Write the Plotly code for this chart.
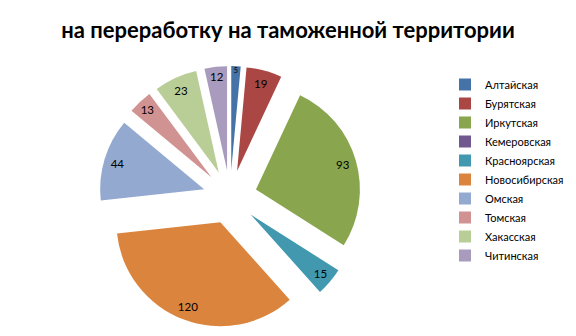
import plotly.graph_objects as go

regions = ["Алтайская", "Бурятская", "Иркутская", "Кемеровская", "Красноярская",
           "Новосибирская", "Омская", "Томская", "Хакасская", "Читинская"]
values = [5, 19, 93, 0, 15, 120, 44, 13, 23, 12]
colors = ["#4572A7", "#AA4643", "#89A54E", "#71588F", "#4198AF",
          "#DB843D", "#93A9CF", "#D19392", "#B9CD96", "#A99BBD"]
title = "на переработку на таможенной территории"

W, H = 576, 336
pull = 0.26
domain = dict(x=[99 / W, 361 / W], y=[(H - 328) / H, (H - 66) / H])
labels_text = [str(v) if v > 0 else "" for v in values]

fig = go.Figure()
# coloured slices
fig.add_trace(go.Pie(
    labels=regions, values=values, sort=False, direction="clockwise", rotation=0,
    pull=[pull] * len(values),
    marker=dict(colors=colors, line=dict(width=0)),
    textinfo="none",
    domain=domain, showlegend=True, hoverinfo="label+value",
))
# transparent ring carrying the value labels near the outer edge
fig.add_trace(go.Pie(
    labels=regions, values=values, sort=False, direction="clockwise", rotation=0,
    pull=[pull] * len(values), hole=0.74,
    marker=dict(colors=["rgba(0,0,0,0)"] * len(values), line=dict(width=0)),
    text=labels_text, textinfo="text", textposition="inside",
    insidetextorientation="horizontal",
    textfont=dict(family="Lato", size=11.5, color="black"),
    domain=domain, showlegend=False, hoverinfo="skip",
))

fig.update_layout(
    width=W, height=H,
    margin=dict(l=0, r=0, t=0, b=0, pad=0),
    paper_bgcolor="white",
    title=dict(text="<b>" + title + "</b>", x=0.5, xanchor="center",
               y=1 - 30 / H, yanchor="middle",
               font=dict(family="Lato", size=22, color="black")),
    legend=dict(x=445 / W, xanchor="left", y=1 - 70 / H, yanchor="top",
                font=dict(family="Lato", size=11, color="black"),
                traceorder="normal", bgcolor="rgba(0,0,0,0)"),
    font=dict(family="Lato"),
)

fig.write_html("out.html")
